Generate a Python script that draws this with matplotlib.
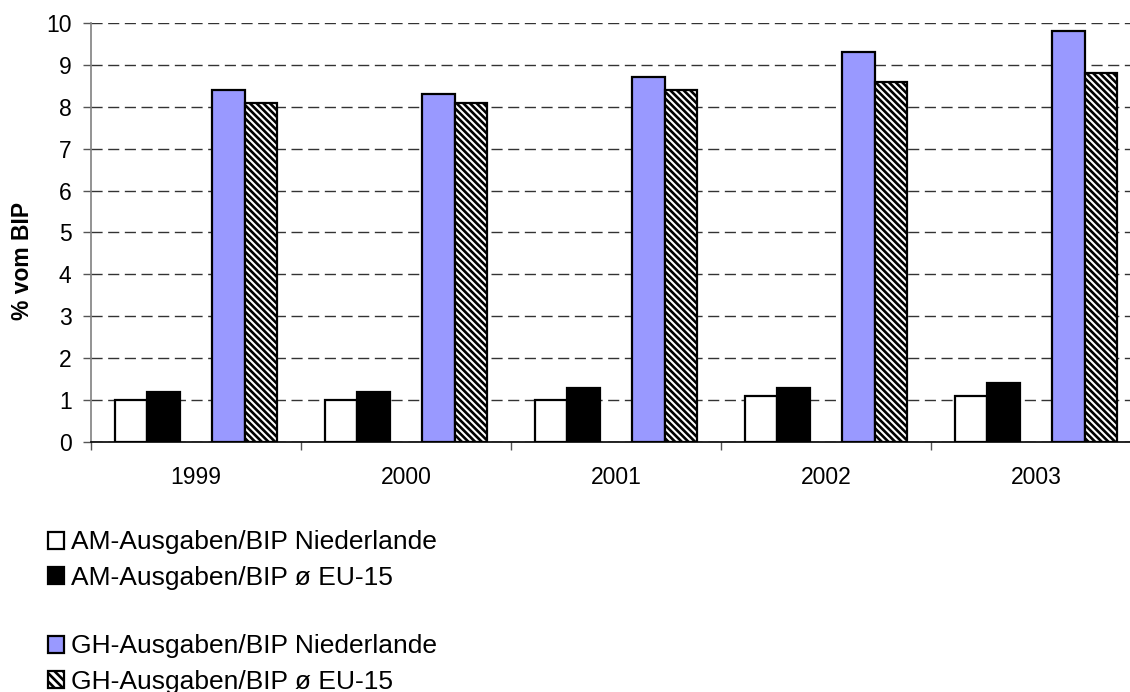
import matplotlib
matplotlib.use("Agg")
import matplotlib.pyplot as plt
from matplotlib.patches import Patch
from matplotlib.ticker import FixedLocator, NullFormatter
import numpy as np

plt.rcParams['font.family'] = ['Liberation Sans', 'DejaVu Sans']
plt.rcParams['hatch.linewidth'] = 1.9

years = ["1999", "2000", "2001", "2002", "2003"]
am_nl = [1.0, 1.0, 1.0, 1.1, 1.1]
am_eu = [1.2, 1.2, 1.3, 1.3, 1.4]
gh_nl = [8.4, 8.3, 8.7, 9.3, 9.8]
gh_eu = [8.1, 8.1, 8.4, 8.6, 8.8]

labels = ["AM-Ausgaben/BIP Niederlande", "AM-Ausgaben/BIP ø EU-15",
          "GH-Ausgaben/BIP Niederlande", "GH-Ausgaben/BIP ø EU-15"]

W, H = 1130, 692
fig = plt.figure(figsize=(W / 100, H / 100), dpi=100)
ax = fig.add_axes([91 / W, (H - 442) / H, 1050 / W, 419 / H])

x = np.arange(len(years)) + 0.5
w = 0.155
edge = dict(edgecolor='black', linewidth=1.6)
ax.bar(x - 2 * w, am_nl, w, color='white', zorder=3, **edge)
ax.bar(x - w, am_eu, w, color='black', zorder=3, **edge)
ax.bar(x + w, gh_nl, w, color='#9999FF', zorder=3, **edge)
ax.bar(x + 2 * w, gh_eu, w, color='white', hatch='\\\\\\\\\\', zorder=3, **edge)

ax.set_xlim(0, len(years))
ax.set_ylim(0, 10)
ax.set_yticks(range(0, 11))
ax.yaxis.grid(True, linestyle=(0, (8, 4)), color='#333333', linewidth=1.0, zorder=1)
ax.set_axisbelow(True)

ax.set_xticks(x)
ax.set_xticklabels(years)
ax.xaxis.set_minor_locator(FixedLocator(np.arange(0, len(years) + 1)))
ax.xaxis.set_minor_formatter(NullFormatter())
ax.tick_params(axis='x', which='major', length=0, pad=17, labelsize=16.5)
ax.tick_params(axis='x', which='minor', length=6, width=1, color='#555555', direction='out')
ax.tick_params(axis='y', length=6, width=1, color='#555555', direction='out',
               pad=8, labelsize=16.5)

for s in ('top', 'right'):
    ax.spines[s].set_visible(False)
ax.spines['left'].set_color('#808080')
ax.spines['left'].set_linewidth(1.2)
ax.spines['bottom'].set_color('black')
ax.spines['bottom'].set_linewidth(1.2)

ax.set_ylabel("% vom BIP", fontsize=16.5, fontweight='bold', va='center')
ax.yaxis.set_label_coords(-0.0648, 0.432)

handles = [
    Patch(facecolor='white', edgecolor='black', linewidth=1.6),
    Patch(facecolor='black', edgecolor='black', linewidth=1.6),
    Patch(facecolor='#9999FF', edgecolor='black', linewidth=1.6),
    Patch(facecolor='white', edgecolor='black', linewidth=1.6, hatch='\\\\\\\\'),
]
common = dict(frameon=False, fontsize=19, handlelength=0.62, handleheight=0.62,
              handletextpad=0.25, labelspacing=0.42, borderpad=0, borderaxespad=0,
              loc='center left')
leg1 = fig.legend(handles[:2], labels[:2], bbox_to_anchor=(48 / W, 1 - 560 / H), **common)
leg2 = fig.legend(handles[2:], labels[2:], bbox_to_anchor=(48 / W, 1 - 664 / H), **common)

fig.savefig("out.png", dpi=100)
